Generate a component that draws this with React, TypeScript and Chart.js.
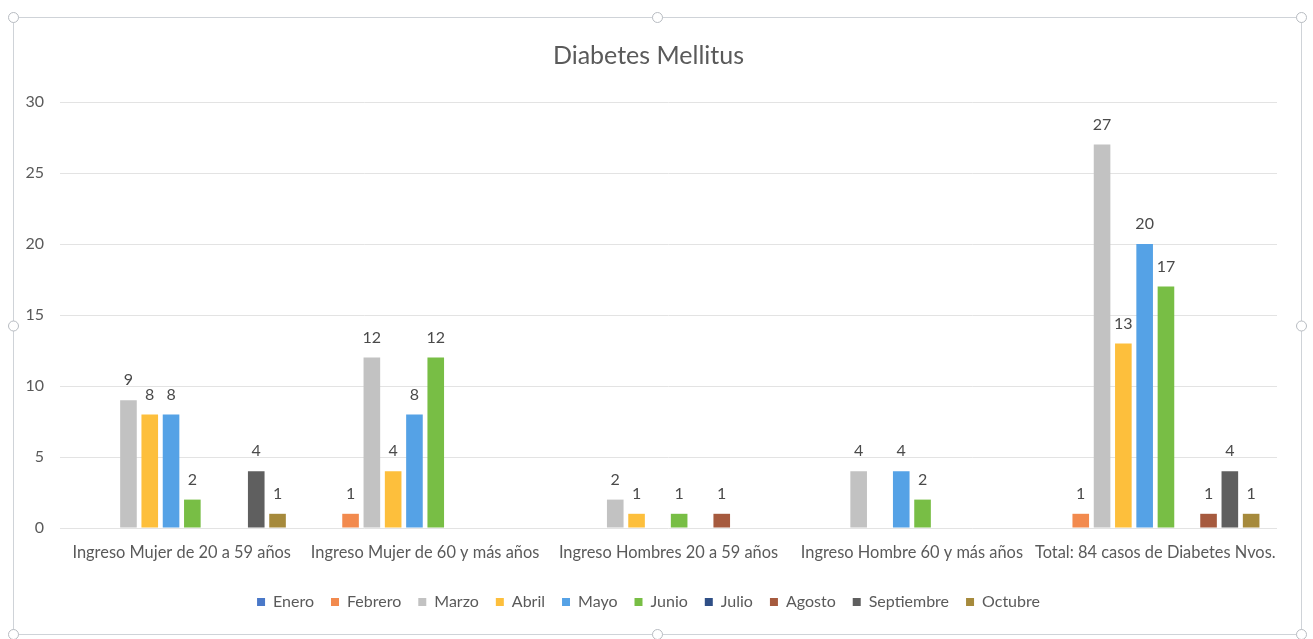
import React, { useEffect, useRef } from "react";
import { Chart, registerables } from "chart.js";

Chart.register(...registerables);

const chartTitle = "Diabetes Mellitus";
const categories = [
  "Ingreso Mujer de 20 a 59 años",
  "Ingreso Mujer de 60 y más años",
  "Ingreso Hombres 20 a 59 años",
  "Ingreso Hombre 60 y más años",
  "Total: 84 casos de Diabetes Nvos.",
];
const months = ["Enero", "Febrero", "Marzo", "Abril", "Mayo", "Junio", "Julio", "Agosto", "Septiembre", "Octubre"];

const enero = [null, null, null, null, null];
const febrero = [null, 1, null, null, 1];
const marzo = [9, 12, 2, 4, 27];
const abril = [8, 4, 1, null, 13];
const mayo = [8, 8, null, 4, 20];
const junio = [2, 12, 1, 2, 17];
const julio = [null, null, null, null, null];
const agosto = [null, null, 1, null, 1];
const septiembre = [4, null, null, null, 4];
const octubre = [1, null, null, null, 1];

const seriesValues = [enero, febrero, marzo, abril, mayo, junio, julio, agosto, septiembre, octubre];
const seriesColors = [
  "#4a78c8",
  "#f28a4e",
  "#c2c2c2",
  "#fdbf3c",
  "#55a2e6",
  "#78be45",
  "#2f4f86",
  "#a65a3e",
  "#5f5f5f",
  "#a68a3c",
];

const yMin = 0;
const yMax = 30;
const yStep = 5;

const FONT = "Lato";
const TEXT = "#5a5a5a";

const framePlugin = {
  id: "frame",
  beforeDraw(chart: any) {
    const ctx = chart.ctx;
    ctx.save();
    ctx.fillStyle = "#ffffff";
    ctx.fillRect(0, 0, chart.width, chart.height);
    ctx.restore();
  },
  afterDraw(chart: any) {
    const ctx = chart.ctx;
    const l = 13, t = 17, r = 1301, b = 634;
    ctx.save();
    ctx.strokeStyle = "#cfd3d8";
    ctx.lineWidth = 1;
    ctx.strokeRect(l + 0.5, t + 0.5, r - l, b - t);
    const mx = (l + r) / 2, my = (t + b) / 2;
    const pts = [[l, t], [mx, t], [r, t], [l, my], [r, my], [l, b], [mx, b], [r, b]];
    for (const [x, y] of pts) {
      ctx.beginPath();
      ctx.arc(x + 0.5, y + 0.5, 5, 0, Math.PI * 2);
      ctx.fillStyle = "#ffffff";
      ctx.fill();
      ctx.strokeStyle = "#b8bcc2";
      ctx.stroke();
    }
    ctx.restore();
  },
};

const valueLabelPlugin = {
  id: "valueLabels",
  afterDatasetsDraw(chart: any) {
    const ctx = chart.ctx;
    ctx.save();
    ctx.font = `16px ${FONT}`;
    ctx.fillStyle = "#4a4a4a";
    ctx.textAlign = "center";
    ctx.textBaseline = "bottom";
    chart.data.datasets.forEach((ds: any, i: number) => {
      const meta = chart.getDatasetMeta(i);
      meta.data.forEach((bar: any, j: number) => {
        const v = ds.data[j];
        if (v === null || v === undefined) return;
        ctx.fillText(String(v), bar.x, bar.y - 12);
      });
    });
    ctx.restore();
  },
};

export default function App() {
  const ref = useRef<HTMLCanvasElement>(null);
  useEffect(() => {
    if (!ref.current) return;
    const chart = new Chart(ref.current, {
      type: "bar",
      data: {
        labels: categories,
        datasets: months.map((m, i) => ({
          label: m,
          data: seriesValues[i],
          backgroundColor: seriesColors[i],
          borderWidth: 0,
          categoryPercentage: 0.875,
          barPercentage: 0.78,
        })),
      },
      options: {
        responsive: false,
        animation: false,
        layout: { padding: { left: 20, right: 36, top: 0, bottom: 19 } },
        plugins: {
          title: {
            display: true,
            text: chartTitle,
            color: TEXT,
            font: { family: FONT, size: 25, weight: "normal" },
            padding: { top: 41, bottom: 31 },
          },
          legend: {
            position: "bottom",
            labels: {
              color: TEXT,
              font: { family: FONT, size: 16 },
              boxWidth: 8,
              boxHeight: 8,
              padding: 17,
            },
          },
          tooltip: { enabled: false },
        },
        scales: {
          x: {
            grid: { display: false, drawTicks: false },
            border: { display: false },
            ticks: { color: TEXT, font: { family: FONT, size: 16.4 }, padding: 15, maxRotation: 0, autoSkip: false },
            afterFit: (s: any) => { s.height = 49; },
          },
          y: {
            min: yMin,
            max: yMax,
            ticks: { stepSize: yStep, color: TEXT, font: { family: FONT, size: 16 }, padding: 16 },
            grid: { color: "#e3e3e3", drawTicks: false },
            border: { display: false },
            afterFit: (s: any) => { s.width = 40; },
          },
        },
      },
      plugins: [framePlugin, valueLabelPlugin],
    });
    return () => chart.destroy();
  }, []);
  return (
    <div style={{ position: "fixed", left: 0, top: 0, width: 1313, height: 639 }}>
      <canvas ref={ref} width={1313} height={639} style={{ display: "block" }} />
    </div>
  );
}
